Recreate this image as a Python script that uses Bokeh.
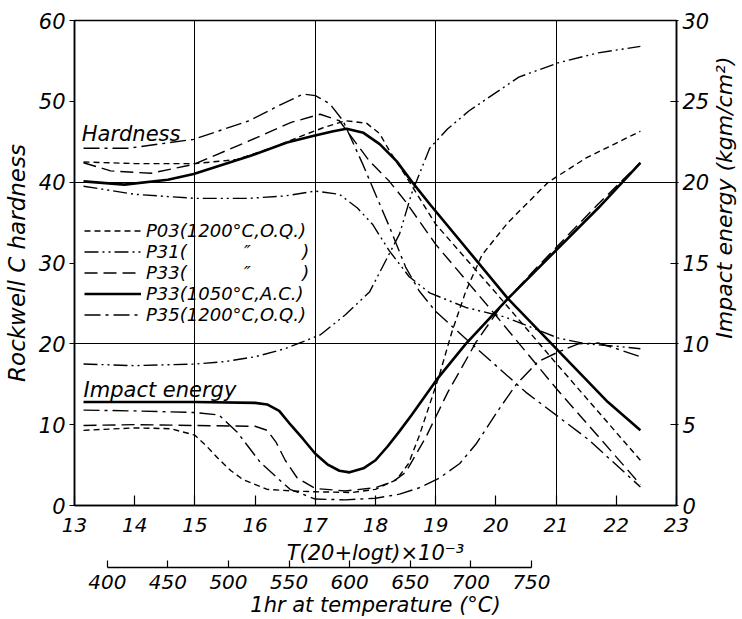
import math
from bokeh.plotting import figure
from bokeh.layouts import row
from bokeh.models import Range1d, LinearAxis, FixedTicker, Label, Legend, LegendItem
from bokeh.core.properties import value
from bokeh.embed import file_html
from bokeh.resources import INLINE

FONT = "DejaVu Sans"

# ---------------- data ----------------
x_ticks = [13, 14, 15, 16, 17, 18, 19, 20, 21, 22, 23]
hard_ticks = [0, 10, 20, 30, 40, 50, 60]
imp_ticks = [0, 5, 10, 15, 20, 25, 30]
temp_ticks = [400, 450, 500, 550, 600, 650, 700, 750]

# Hardness (Rockwell C)
h_p03_x = [13.15, 14.0, 15.0, 15.7, 16.3, 16.8, 17.12, 17.5, 17.85, 18.07, 18.23, 18.5, 19.0, 20.0, 21.0, 22.4]
h_p03_y = [42.5, 42.3, 42.3, 42.8, 44.3, 45.8, 46.7, 47.6, 47.3, 46.0, 43.9, 40.8, 34.8, 26.3, 17.6, 5.6]

h_p31_x = [13.15, 14.0, 15.0, 15.9, 16.5, 17.0, 17.4, 17.7, 17.95, 18.23, 18.56, 18.9, 19.5, 20.16, 20.6, 21.04, 21.5, 22.0, 22.4]
h_p31_y = [39.5, 38.5, 38.0, 38.0, 38.3, 38.9, 38.5, 36.8, 34.8, 31.5, 28.3, 26.3, 24.5, 23.3, 22.0, 20.7, 20.0, 19.7, 19.4]

h_p33_x = [13.15, 13.6, 14.27, 14.98, 15.9, 16.6, 17.08, 17.4, 17.9, 18.23, 18.5, 19.0, 20.0, 21.0, 22.4]
h_p33_y = [42.4, 41.4, 41.1, 42.2, 45.1, 47.4, 48.4, 47.6, 42.6, 40.1, 37.6, 32.3, 23.5, 14.5, 2.6]

h_p33ac_x = [13.15, 13.83, 14.55, 14.98, 15.9, 16.53, 16.96, 17.3, 17.52, 17.8, 18.07, 18.35, 18.6, 18.9, 20.2, 21.86, 22.4]
h_p33ac_y = [40.1, 39.7, 40.3, 41.0, 43.2, 44.9, 45.7, 46.3, 46.6, 46.1, 44.7, 42.6, 40.1, 37.3, 25.6, 12.8, 9.3]

h_p35_x = [13.15, 13.9, 14.98, 15.9, 16.4, 16.8, 17.0, 17.24, 17.46, 17.79, 18.0, 18.23, 18.5, 18.73, 19.0, 19.55, 20.5, 21.53, 22.4]
h_p35_y = [44.2, 44.2, 45.3, 47.6, 49.5, 50.9, 50.7, 49.7, 47.6, 42.2, 38.5, 34.5, 29.5, 26.5, 24.0, 20.3, 14.0, 8.2, 2.3]

# Impact energy (kgm/cm2)
i_p03_x = [13.15, 14.0, 14.6, 15.0, 15.2, 15.4, 15.6, 15.8, 16.2, 16.6, 17.0, 17.6, 18.0, 18.35, 18.55, 18.73, 19.06, 19.27, 19.5, 19.77, 20.2, 20.87, 21.5, 22.4]
i_p03_y = [4.65, 4.8, 4.75, 4.35, 3.65, 2.85, 2.15, 1.6, 1.0, 0.9, 0.85, 0.8, 1.0, 1.6, 2.6, 4.35, 8.05, 10.75, 13.25, 15.5, 17.5, 20.0, 21.5, 23.15]

i_p31_x = [13.15, 14.0, 15.0, 15.5, 16.0, 16.5, 17.08, 17.5, 17.9, 18.4, 18.6, 18.9, 19.2, 19.55, 20.38, 21.05, 21.7, 22.4]
i_p31_y = [8.75, 8.65, 8.75, 8.9, 9.2, 9.7, 10.55, 11.8, 13.2, 16.8, 19.3, 22.1, 23.3, 24.4, 26.5, 27.4, 28.0, 28.4]

i_p33_x = [13.15, 14.0, 15.0, 16.0, 16.2, 16.35, 16.5, 16.7, 17.0, 17.5, 18.0, 18.3, 18.5, 18.84, 19.2, 19.67, 20.1, 20.66, 21.7, 22.4]
i_p33_y = [4.95, 5.0, 4.95, 4.9, 4.65, 3.9, 2.8, 1.7, 1.05, 0.9, 1.1, 1.5, 2.05, 4.25, 7.0, 10.1, 12.4, 14.65, 18.65, 21.2]

i_p33ac_x = [13.15, 15.0, 16.0, 16.2, 16.4, 16.6, 16.8, 17.0, 17.2, 17.4, 17.57, 17.8, 18.0, 18.2, 18.4, 18.6, 19.02, 19.5, 20.2, 21.7, 22.4]
i_p33ac_y = [6.4, 6.4, 6.35, 6.25, 5.85, 4.95, 4.1, 3.2, 2.55, 2.15, 2.05, 2.3, 2.8, 3.65, 4.6, 5.6, 7.8, 10.0, 12.8, 18.4, 21.2]

i_p35_x = [13.15, 14.0, 15.0, 15.4, 15.7, 16.09, 16.58, 17.0, 17.5, 18.0, 18.4, 18.73, 19.06, 19.4, 19.67, 20.05, 20.33, 20.7, 21.04, 21.37, 21.7, 22.0, 22.4]
i_p35_y = [5.9, 5.85, 5.75, 5.6, 4.55, 2.65, 1.0, 0.4, 0.35, 0.45, 0.7, 1.1, 1.7, 2.6, 3.8, 5.95, 7.45, 8.9, 9.5, 10.0, 10.05, 9.7, 9.2]

labels = ["P03(1200°C,O.Q.)",
          "P31(\u00a0\u00a0\u00a0\u00a0\u00a0\u00a0\u00a0\u00a0\u00a0\u00a0″\u00a0\u00a0\u00a0\u00a0\u00a0\u00a0\u00a0\u00a0\u00a0)",
          "P33(\u00a0\u00a0\u00a0\u00a0\u00a0\u00a0\u00a0\u00a0\u00a0\u00a0″\u00a0\u00a0\u00a0\u00a0\u00a0\u00a0\u00a0\u00a0\u00a0)",
          "P33(1050°C,A.C.)",
          "P35(1200°C,O.Q.)"]
right_label = ["Impact energy (kgm/cm²)"]

# ---------------- main figure ----------------
p = figure(width=712, height=619, x_range=Range1d(13, 23), y_range=Range1d(0, 60),
           output_backend="svg", toolbar_location=None,
           min_border_left=62, min_border_right=30, min_border_top=20, min_border_bottom=100)
p.extra_y_ranges = {"impact": Range1d(0, 30)}
p.extra_x_ranges = {"temp": Range1d(372.95, 869.67)}

p.background_fill_color = "white"
p.border_fill_color = "white"
p.outline_line_color = "black"
p.outline_line_width = 1.5

# grid
p.xgrid.ticker = FixedTicker(ticks=[15, 17, 19, 21])
p.ygrid.ticker = FixedTicker(ticks=[20, 40])
for g in (p.xgrid, p.ygrid):
    g.grid_line_color = "black"
    g.grid_line_width = 1
    g.grid_line_alpha = 1

def style_axis(ax, tick_size, label_size):
    ax.axis_line_color = "black"
    ax.axis_line_width = 1.5
    ax.major_tick_line_color = "black"
    ax.major_tick_line_width = 1.2
    ax.minor_tick_line_color = None
    ax.major_label_text_font = FONT
    ax.major_label_text_font_style = "italic"
    ax.major_label_text_font_size = tick_size
    ax.major_label_text_color = "black"
    ax.axis_label_text_font = FONT
    ax.axis_label_text_font_style = "italic"
    ax.axis_label_text_font_size = label_size
    ax.axis_label_text_color = "black"

# bottom main axis
xa = p.xaxis[0]
xa.ticker = FixedTicker(ticks=x_ticks)
xa.axis_label = "T(20+logt)×10⁻³"
style_axis(xa, "20px", "21px")
xa.major_tick_in = 10
xa.major_tick_out = 0
xa.major_label_standoff = 12
xa.axis_label_standoff = 6

# left axis
ya = p.yaxis[0]
ya.ticker = FixedTicker(ticks=hard_ticks)
ya.axis_label = "Rockwell C hardness"
style_axis(ya, "21px", "23px")
ya.major_tick_in = 0
ya.major_tick_out = 5
ya.major_label_standoff = 4
ya.axis_label_standoff = 6

# right axis (its title is drawn in a narrow strip to the right)
ra = LinearAxis(y_range_name="impact", ticker=FixedTicker(ticks=imp_ticks))
style_axis(ra, "21px", "21px")
ra.major_tick_in = 6
ra.major_tick_out = 2
ra.major_label_standoff = 4
p.add_layout(ra, "right")

# temperature axis below
ta = LinearAxis(x_range_name="temp", ticker=FixedTicker(ticks=temp_ticks), bounds=(400, 750),
                axis_label="1hr at temperature (°C)")
style_axis(ta, "20px", "21px")
ta.major_tick_in = 7
ta.major_tick_out = 0
ta.major_label_standoff = 7
ta.axis_label_standoff = 1
p.add_layout(ta, "below")

# ---------------- curves ----------------
styles = [
    dict(line_dash="6 4", line_width=1.4),                 # P03
    dict(line_dash="14 4 2 4 2 4", line_width=1.4),        # P31
    dict(line_dash="13 6", line_width=1.4),                # P33
    dict(line_dash="solid", line_width=2.6),               # P33 A.C.
    dict(line_dash="16 5 3 5", line_width=1.4),            # P35
]

hard = [(h_p03_x, h_p03_y), (h_p31_x, h_p31_y), (h_p33_x, h_p33_y), (h_p33ac_x, h_p33ac_y), (h_p35_x, h_p35_y)]
imp = [(i_p03_x, i_p03_y), (i_p31_x, i_p31_y), (i_p33_x, i_p33_y), (i_p33ac_x, i_p33ac_y), (i_p35_x, i_p35_y)]

items = []
for (hx, hy), (ix, iy), st, lab in zip(hard, imp, styles, labels):
    r = p.line(hx, hy, line_color="black", line_join="round", **st)
    p.line(ix, iy, line_color="black", line_join="round", y_range_name="impact", **st)
    items.append(LegendItem(label=lab, renderers=[r]))

legend = Legend(items=items, location=(10, 180))
legend.background_fill_alpha = 0
legend.border_line_alpha = 0
legend.padding = 0
legend.margin = 0
legend.spacing = 0
legend.glyph_width = 57
legend.glyph_height = 21
legend.label_height = 21
legend.label_standoff = 5
legend.label_text_font = FONT
legend.label_text_font_style = "italic"
legend.label_text_font_size = "18px"
legend.label_text_color = "black"
p.add_layout(legend)

p.add_layout(Label(x=13.12, y=46.0, text="Hardness", text_font=FONT, text_font_style="italic",
                   text_font_size="21px", text_color="black", text_baseline="alphabetic"))
p.add_layout(Label(x=13.15, y=14.3, text="Impact energy", text_font=FONT, text_font_style="italic",
                   text_font_size="21px", text_color="black", text_baseline="alphabetic"))

# ---------------- strip holding the right-hand axis title ----------------
q = figure(width=30, height=619, x_range=Range1d(0, 30), y_range=Range1d(0, 619),
           output_backend="svg", toolbar_location=None, x_axis_type=None, y_axis_type=None,
           min_border=0)
q.outline_line_color = None
q.background_fill_color = "white"
q.border_fill_color = "white"
q.xgrid.visible = False
q.ygrid.visible = False
q.text(x=[12], y=[393], text=right_label, angle=math.pi / 2,
       text_font=value(FONT), text_font_style=value("italic"), text_font_size=value("22px"),
       text_color="black", text_align="center", text_baseline="middle")

layout = row(p, q)
open("out.html", "w").write(file_html(layout, INLINE))
